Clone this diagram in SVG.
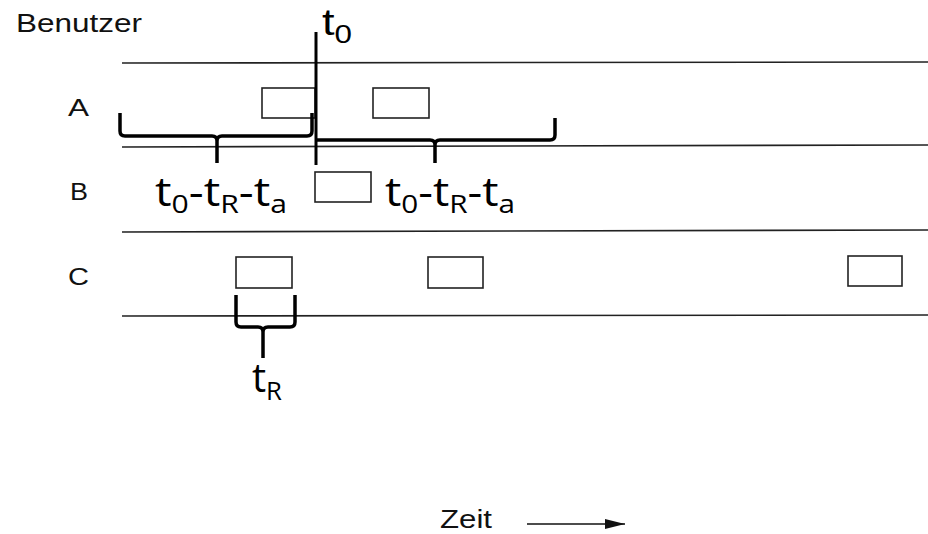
<svg xmlns="http://www.w3.org/2000/svg" width="928" height="534" viewBox="0 0 928 534">
<style>
.lane{stroke:#222;stroke-width:1.6;fill:none}
.box{fill:#fff;stroke:#222;stroke-width:1.6}
.brace{fill:none;stroke:#000;stroke-width:3.5;stroke-linejoin:round}
.lbl{font-family:"Liberation Sans",Arial,sans-serif;font-size:26px;fill:#111}
.row{font-family:"Liberation Sans",Arial,sans-serif;font-size:23px;fill:#111}
.math{font-family:"Open Sans","Noto Sans",sans-serif;font-size:40px;fill:#000}
.sub{font-size:26px}
</style>
<defs>
<marker id="arr" markerWidth="20" markerHeight="10" refX="20" refY="5" orient="auto" markerUnits="userSpaceOnUse">
<path d="M0,0 L20,5 L0,10 z" fill="#111"/>
</marker>
</defs>
<rect width="928" height="534" fill="#fff"/>
<g id="lanes">
<line class="lane" x1="122" y1="63" x2="928" y2="62"/>
<line class="lane" x1="122" y1="147" x2="928" y2="145"/>
<line class="lane" x1="122" y1="232" x2="928" y2="230"/>
<line class="lane" x1="122" y1="316" x2="928" y2="315"/>
</g>
<g id="labels">
<text class="lbl" x="16" y="32" textLength="126" lengthAdjust="spacingAndGlyphs">Benutzer</text>
<text class="row" x="68" y="116" textLength="21" lengthAdjust="spacingAndGlyphs">A</text>
<text class="row" x="70" y="200" textLength="18" lengthAdjust="spacingAndGlyphs">B</text>
<text class="row" x="68" y="285" textLength="21" lengthAdjust="spacingAndGlyphs">C</text>
</g>
<g id="userA">
<rect class="box" x="262" y="88" width="53" height="30"/>
<rect class="box" x="373" y="88" width="56" height="30"/>
</g>
<g id="userB">
<rect class="box" x="315" y="172" width="56" height="30"/>
</g>
<g id="userC">
<rect class="box" x="236" y="257" width="56" height="31"/>
<rect class="box" x="428" y="257" width="55" height="31"/>
<rect class="box" x="848" y="256" width="54" height="30"/>
</g>
<g id="t0">
<line x1="316" y1="32" x2="316" y2="165" stroke="#000" stroke-width="3"/>
<text x="322" y="35" font-family="Liberation Sans, Arial, sans-serif" font-size="36" textLength="30" lengthAdjust="spacingAndGlyphs">t<tspan font-size="25" dy="8">0</tspan></text>
</g>
<g id="brace-left">
<path class="brace" d="M120,113 V131 Q120,136 125,136 H212 Q217,136 217,141 V163 M217,141 Q217,136 222,136 H307 Q312,136 312,131 V113"/>
<text class="math" x="155" y="206" textLength="132" lengthAdjust="spacingAndGlyphs">t<tspan class="sub" dy="7">0</tspan><tspan dy="-7">-t</tspan><tspan class="sub" dy="7">R</tspan><tspan dy="-7">-t</tspan><tspan class="sub" dy="7">a</tspan></text>
</g>
<g id="brace-right">
<path class="brace" d="M316,140 H430 Q435,140 435,145 V163 M435,145 Q435,140 440,140 H550 Q555,140 555,135 V118"/>
<text class="math" x="385" y="206" textLength="130" lengthAdjust="spacingAndGlyphs">t<tspan class="sub" dy="7">0</tspan><tspan dy="-7">-t</tspan><tspan class="sub" dy="7">R</tspan><tspan dy="-7">-t</tspan><tspan class="sub" dy="7">a</tspan></text>
</g>
<g id="brace-tR">
<path class="brace" d="M236,295 V322 Q236,327 241,327 H258 Q263,327 263,332 V358 M263,332 Q263,327 268,327 H290 Q295,327 295,322 V295"/>
<text class="math" x="252" y="392" textLength="30" lengthAdjust="spacingAndGlyphs">t<tspan class="sub" dy="8">R</tspan></text>
</g>
<g id="time-axis">
<text class="lbl" x="440" y="528" font-size="24" textLength="52" lengthAdjust="spacingAndGlyphs">Zeit</text>
<line x1="527" y1="524" x2="625" y2="524" stroke="#111" stroke-width="1.6" marker-end="url(#arr)"/>
</g>
</svg>
